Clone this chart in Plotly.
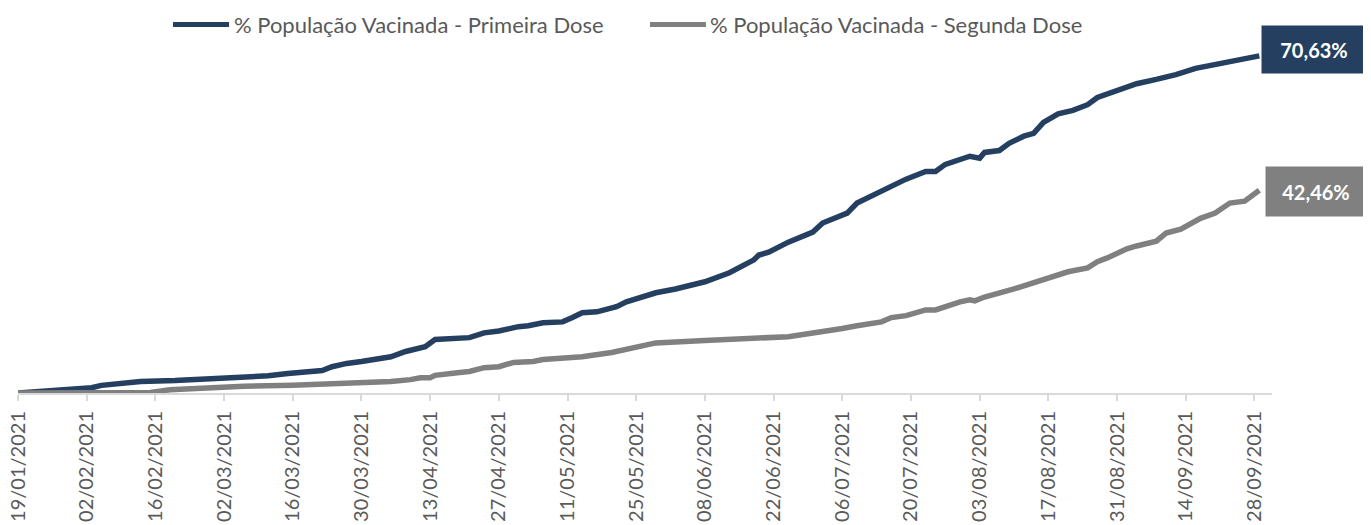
import plotly.graph_objects as go
import pandas as pd

# Primeira dose (% população vacinada)
dates_d1 = ["2021-01-19","2021-01-26","2021-01-31","2021-02-03","2021-02-05","2021-02-09","2021-02-13",
            "2021-02-20","2021-03-02","2021-03-06","2021-03-11","2021-03-15","2021-03-19","2021-03-22",
            "2021-03-24","2021-03-27","2021-03-30","2021-04-02","2021-04-05","2021-04-08","2021-04-11",
            "2021-04-12","2021-04-14","2021-04-17","2021-04-21","2021-04-24","2021-04-27","2021-05-01",
            "2021-05-03","2021-05-06","2021-05-10","2021-05-12","2021-05-14","2021-05-17","2021-05-21",
            "2021-05-23","2021-05-26","2021-05-29","2021-06-02","2021-06-04","2021-06-08","2021-06-13",
            "2021-06-15","2021-06-18","2021-06-19","2021-06-21","2021-06-25","2021-06-29","2021-06-30",
            "2021-07-02","2021-07-05","2021-07-07","2021-07-09","2021-07-11","2021-07-14","2021-07-18",
            "2021-07-19","2021-07-23","2021-07-25","2021-07-27","2021-07-30","2021-08-01","2021-08-03",
            "2021-08-04","2021-08-07","2021-08-09","2021-08-12","2021-08-14","2021-08-16","2021-08-19",
            "2021-08-22","2021-08-25","2021-08-27","2021-08-29","2021-09-02","2021-09-04","2021-09-08",
            "2021-09-10","2021-09-12","2021-09-16","2021-09-20","2021-09-24","2021-09-27","2021-09-29"]
dose1 = [0.0,0.5,0.9,1.1,1.6,2.0,2.4,
         2.6,3.0,3.4,3.6,4.1,4.5,4.7,
         5.5,6.2,6.6,7.2,7.6,8.7,9.5,
         9.7,11.2,11.4,11.6,12.6,13.0,13.9,
         14.1,14.7,14.9,15.8,16.8,17.0,18.1,
         19.1,20.1,21.0,21.8,22.4,23.3,25.2,
         26.2,27.9,28.9,29.5,31.6,33.5,33.7,
         35.6,36.8,37.7,39.8,40.8,42.1,44.4,
         44.8,46.4,46.4,47.9,49.0,49.6,49.2,
         50.4,50.8,52.3,53.8,54.4,56.7,58.5,
         59.2,60.4,61.9,62.7,64.2,64.8,65.7,
         66.1,66.7,68.0,68.8,69.6,70.2,70.63]

# Segunda dose (% população vacinada)
dates_d2 = ["2021-01-19","2021-02-15","2021-02-19","2021-02-26","2021-03-06","2021-03-16","2021-03-23",
            "2021-03-29","2021-04-05","2021-04-09","2021-04-11","2021-04-13","2021-04-14","2021-04-19",
            "2021-04-21","2021-04-24","2021-04-27","2021-04-30","2021-05-04","2021-05-06","2021-05-10",
            "2021-05-14","2021-05-20","2021-05-24","2021-05-28","2021-05-29","2021-06-08","2021-06-18",
            "2021-06-25","2021-06-29","2021-07-02","2021-07-06","2021-07-09","2021-07-11","2021-07-14",
            "2021-07-16","2021-07-19","2021-07-23","2021-07-25","2021-07-30","2021-08-01","2021-08-02",
            "2021-08-04","2021-08-10","2021-08-14","2021-08-17","2021-08-21","2021-08-25","2021-08-27",
            "2021-08-29","2021-09-02","2021-09-04","2021-09-08","2021-09-10","2021-09-13","2021-09-17",
            "2021-09-20","2021-09-23","2021-09-26","2021-09-29"]
dose2 = [0.0,0.1,0.7,1.1,1.4,1.6,1.8,
         2.0,2.4,2.8,3.2,3.2,3.7,4.3,
         4.5,5.3,5.5,6.4,6.6,7.0,7.2,
         7.6,8.5,9.5,10.3,10.5,11.0,11.4,
         11.8,12.4,12.8,13.5,14.1,14.5,14.9,
         15.8,16.2,17.4,17.4,19.1,19.5,19.3,
         20.1,21.8,23.0,24.1,25.4,26.2,27.5,
         28.3,30.2,30.8,31.8,33.5,34.3,36.6,
         37.7,39.8,40.2,42.46]

series_names = ["% População Vacinada - Primeira Dose", "% População Vacinada - Segunda Dose"]
final_labels = ["70,63%", "42,46%"]
tick_dates = pd.date_range("2021-01-19", "2021-09-28", freq="14D")
tick_labels = [d.strftime("%d/%m/%Y") for d in tick_dates]

BLUE = "#243F60"
GREY = "#808080"
TEXT = "#595959"
FONT = "Lato"

fig = go.Figure()
fig.add_trace(go.Scatter(x=pd.to_datetime(dates_d1), y=dose1, mode="lines", name=series_names[0],
                         line=dict(color=BLUE, width=5.5)))
fig.add_trace(go.Scatter(x=pd.to_datetime(dates_d2), y=dose2, mode="lines", name=series_names[1],
                         line=dict(color=GREY, width=5.5)))

# end-of-line value labels
fig.add_annotation(x=pd.to_datetime(dates_d1[-1]), y=dose1[-1], text="<b>" + final_labels[0] + "</b>",
                   showarrow=False, xanchor="left", yanchor="middle", xshift=2, yshift=6,
                   bgcolor=BLUE, width=104, height=47, borderpad=0,
                   font=dict(family=FONT, size=20, color="white"))
fig.add_annotation(x=pd.to_datetime(dates_d2[-1]), y=dose2[-1], text="<b>" + final_labels[1] + "</b>",
                   showarrow=False, xanchor="left", yanchor="middle", xshift=6, yshift=-1,
                   bgcolor=GREY, width=100, height=49, borderpad=0,
                   font=dict(family=FONT, size=20, color="white"))

# legend drawn at the top (line sample + label)
PW = 1254.0  # plot width in px
PH = 359.0   # plot height in px
legend_y = 1 + (26.5 - 16) / PH
legend_items = [((165 - 10) / PW, (221 - 10) / PW, (224 - 10) / PW, BLUE),
                ((642 - 10) / PW, (698 - 10) / PW, (700 - 10) / PW, GREY)]
for name, (lx0, lx1, tx, col) in zip(series_names, legend_items):
    fig.add_shape(type="line", xref="paper", yref="paper", x0=lx0, x1=lx1, y0=legend_y, y1=legend_y,
                  line=dict(color=col, width=5))
    fig.add_annotation(xref="paper", yref="paper", x=tx, y=legend_y, text=name, showarrow=False,
                       xanchor="left", yanchor="middle",
                       font=dict(family=FONT, size=22, color=TEXT))

fig.update_layout(
    width=1363, height=517,
    margin=dict(l=10, r=99, t=26.5, b=131.5, autoexpand=False),
    paper_bgcolor="white", plot_bgcolor="white",
    font=dict(family=FONT, color=TEXT),
    showlegend=False,
    xaxis=dict(type="date", range=["2021-01-19", "2021-10-01 14:00"], automargin=False,
               tickmode="array", tickvals=tick_dates, ticktext=tick_labels,
               tickangle=-90, tickfont=dict(family=FONT, size=20, color=TEXT),
               ticklabelstandoff=2, ticklabeloverflow="allow",
               showgrid=False, zeroline=False,
               showline=True, linecolor="#D9D9D9", linewidth=2,
               ticks="outside", ticklen=6, tickwidth=2, tickcolor="#D9D9D9"),
    yaxis=dict(range=[0, 75], visible=False, showgrid=False, zeroline=False, automargin=False),
)

fig.write_html("out.html")
